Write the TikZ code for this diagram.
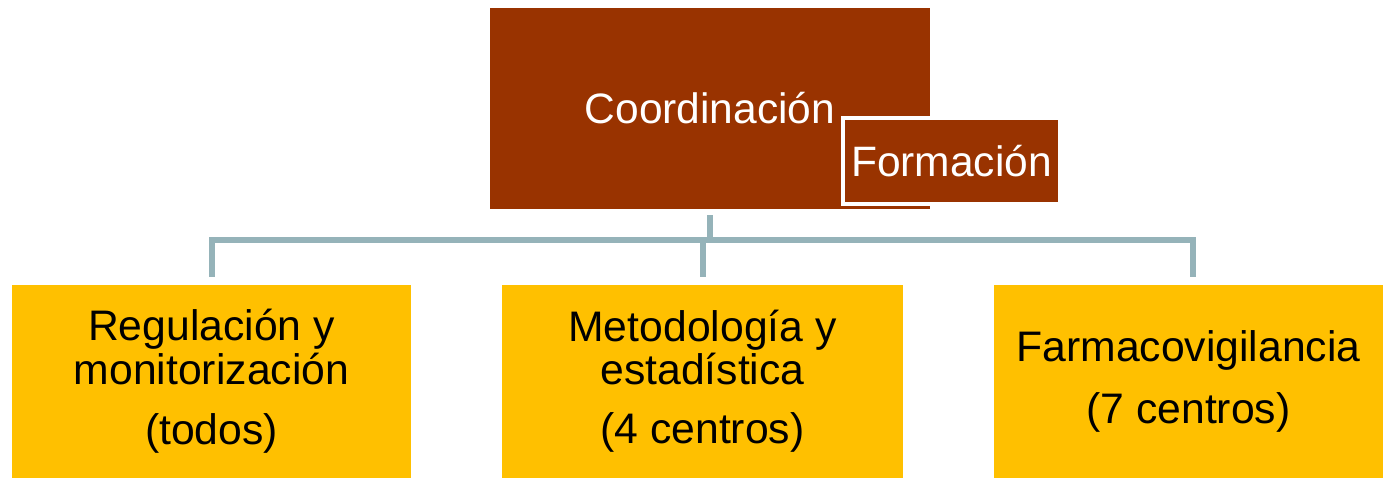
\documentclass[tikz,border=0pt]{standalone}
\usepackage{fontspec}
\setmainfont{Liberation Sans}
\definecolor{brownbox}{HTML}{993300}
\definecolor{goldbox}{HTML}{FFC000}
\definecolor{connc}{HTML}{95B3B9}
\tikzset{
  topbox/.style={fill=brownbox, text=white, inner sep=0pt, font=\fontsize{24.2}{26}\selectfont},
  subbox/.style={fill=goldbox, text=black, inner sep=0pt, align=center, font=\fontsize{24.3}{24.5}\selectfont},
  conn/.style={draw=connc, line width=0.12cm},
}
\begin{document}
\begin{tikzpicture}[x=0.02cm, y=-0.02cm]
\useasboundingbox (0,0) rectangle (1383,478);
\node[topbox, minimum width=8.8cm, minimum height=4.02cm] (coord) at (710,108.5) {Coordinación};
\node[topbox, draw=white, line width=0.08cm, minimum width=4.34cm, minimum height=1.72cm] (form) at (951.5,161) {Formación};
\node[subbox, minimum width=7.98cm, minimum height=3.86cm] (reg) at (211.5,381.5) {Regulación y\\monitorización\\[10pt](todos)};
\node[subbox, minimum width=8.02cm, minimum height=3.86cm] (met) at (702.5,381.5) {Metodología y\\estadística\\[9pt](4 centros)};
\node[subbox, minimum width=7.78cm, minimum height=3.86cm] (farm) at (1188.5,381.5) {Farmacovigilancia\\[11pt](7 centros)};
\coordinate (bus) at (0,240);
\draw[conn] ([yshift=-0.12cm]coord.south) -- (coord.south |- bus);
\draw[conn] ([yshift=0.16cm]reg.north) -- (reg.north |- bus) -- ([xshift=0.09cm]farm.north |- bus) -- ([xshift=0.09cm,yshift=0.16cm]farm.north);
\draw[conn] (met.north |- bus) -- ([yshift=0.16cm]met.north);
\end{tikzpicture}
\end{document}
